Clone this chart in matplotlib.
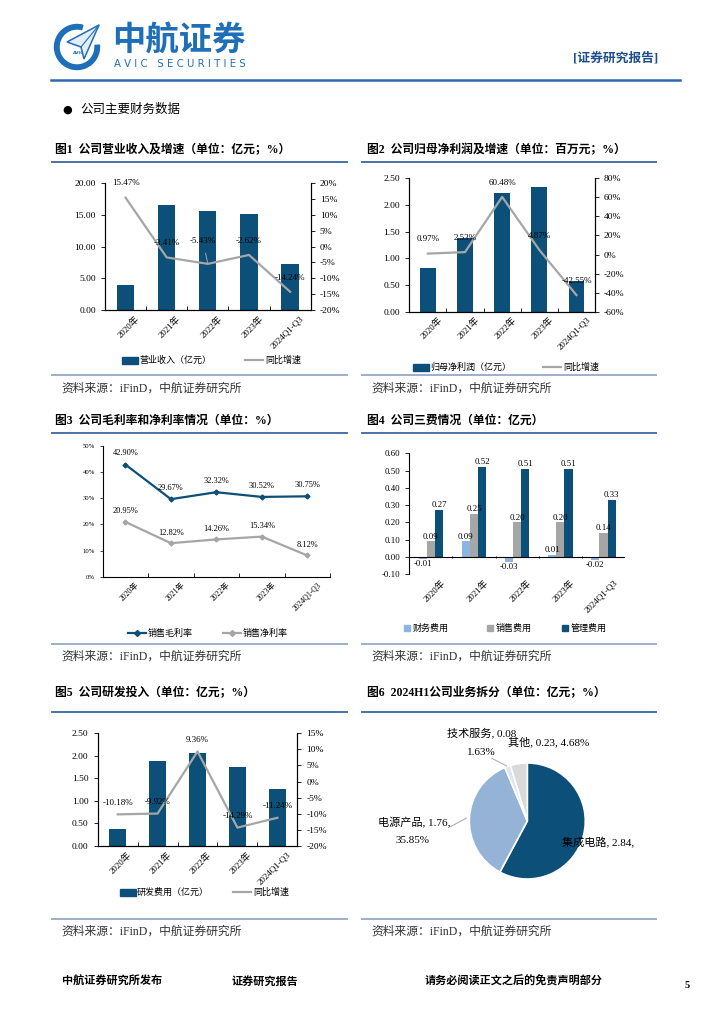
import numpy as np
import matplotlib
matplotlib.use('Agg')
import matplotlib.pyplot as plt
from matplotlib.patches import Rectangle, Wedge, Polygon
from matplotlib.transforms import ScaledTranslation

plt.rcParams['font.family'] = ['Liberation Serif', 'Noto Sans CJK SC']
plt.rcParams['axes.unicode_minus'] = False

# data -----------------------------------------------------------------------
years = ['2020年', '2021年', '2022年', '2023年', '2024Q1-Q3']
rev = [4.0, 16.5, 15.7, 15.2, 7.2]
rev_yoy = [15.47, -3.41, -5.43, -2.62, -14.24]
np_parent = [0.81, 1.38, 2.23, 2.34, 0.58]
np_yoy = [0.97, 2.53, 60.48, 4.87, -42.55]
gross_margin = [42.90, 29.67, 32.32, 30.52, 30.75]
net_margin = [20.95, 12.82, 14.26, 15.34, 8.12]
fin_exp = [-0.01, 0.09, -0.03, 0.01, -0.02]
sell_exp = [0.09, 0.25, 0.20, 0.20, 0.14]
admin_exp = [0.27, 0.52, 0.51, 0.51, 0.33]
rd = [0.38, 1.88, 2.06, 1.76, 1.26]
rd_yoy = [-10.18, -9.92, 9.36, -14.29, -11.24]
seg_names = ['集成电路', '电源产品', '技术服务', '其他']
seg_vals = [2.84, 1.76, 0.08, 0.23]
seg_pct = [57.84, 35.85, 1.63, 4.68]

DARK = '#0C4F78'
GRAY = '#A6A6A6'
LBLUE = '#8DB4E2'
W, H = 724, 1024

fig = plt.figure(figsize=(W / 100, H / 100), dpi=100)

# page layer in pixel coords
page = fig.add_axes([0, 0, 1, 1], zorder=0)
page.set_xlim(0, W)
page.set_ylim(H, 0)
page.axis('off')


def px_axes(x0, y0, x1, y1):
    a = fig.add_axes([x0 / W, 1 - y1 / H, (x1 - x0) / W, (y1 - y0) / H], zorder=2)
    a.patch.set_alpha(0)
    return a


def style_x(ax, fs=6.5):
    x = np.arange(len(years))
    ax.set_xlim(-0.5, len(years) - 0.5)
    ax.set_xticks(x)
    ax.set_xticklabels(years, rotation=45, ha='right', va='top',
                       rotation_mode='anchor', fontsize=fs)
    ax.set_xticks(np.arange(-0.5, len(years), 1), minor=True)
    ax.tick_params(axis='x', which='major', length=0, pad=3)
    ax.tick_params(axis='x', which='minor', direction='in', length=3, width=0.6)
    for lab in ax.get_xticklabels():
        lab.set_transform(lab.get_transform() +
                          ScaledTranslation(7 / 72, 0, fig.dpi_scale_trans))


def bar_line(box, bars, yoy, ylim, ystep, rlim, rstep, dy, lead=None):
    ax = px_axes(*box)
    x = np.arange(len(years))
    ax.bar(x, bars, width=0.42, color=DARK, zorder=2)
    ax.set_ylim(*ylim)
    ax.set_yticks(np.arange(ylim[0], ylim[1] + 1e-9, ystep))
    ax.set_yticklabels(['%.2f' % v for v in ax.get_yticks()])
    ax.tick_params(axis='y', direction='out', length=3, width=0.6, labelsize=6.8)
    style_x(ax)
    ax.spines['top'].set_visible(False)
    for s in ax.spines.values():
        s.set_linewidth(0.8)
    ax2 = ax.twinx()
    ax2.plot(x, yoy, color=GRAY, lw=1.6, zorder=3)
    ax2.set_ylim(*rlim)
    rt = np.arange(rlim[0], rlim[1] + 1e-9, rstep)
    ax2.set_yticks(rt)
    ax2.set_yticklabels(['%d%%' % v for v in rt])
    ax2.tick_params(axis='y', direction='out', length=3, width=0.6, labelsize=6.8)
    ax2.spines['top'].set_visible(False)
    for s in ax2.spines.values():
        s.set_linewidth(0.8)
    for i, v in enumerate(yoy):
        if lead is not None and i == lead:
            ax2.annotate('%.2f%%' % v, xy=(i, v), xytext=(i - 0.12, v + dy * 1.6),
                         ha='center', va='center', fontsize=6.5,
                         arrowprops=dict(arrowstyle='-', color=GRAY, lw=0.7,
                                         shrinkA=4, shrinkB=0))
        else:
            ax2.text(i, v + dy, '%.2f%%' % v, ha='center', va='center', fontsize=6.5)
    return ax, ax2


def leg_bar(x, y, color, text, fs=6.5):
    page.add_patch(Rectangle((x, y - 3.5), 16, 7, color=color))
    page.text(x + 17, y, text, va='center', fontsize=fs)


def leg_sq(x, y, color, text, fs=6.5):
    page.add_patch(Rectangle((x - 3, y - 3), 6, 6, color=color))
    page.text(x + 6, y, text, va='center', fontsize=fs)


def leg_line(x, y, color, text, marker=None, fs=6.5):
    page.plot([x, x + 9, x + 18], [y, y, y], color=color, lw=1.6,
              marker=marker, markersize=3, markevery=[1])
    page.text(x + 20, y, text, va='center', fontsize=fs)


# header -------------------------------------------------------------------
LOGO = '#1F6FB8'
page.add_patch(Wedge((77, 47), 22.5, -5, 285, width=4.5, color=LOGO))
page.add_patch(Polygon([(99, 25), (67, 42), (81, 47), (84, 59)],
                       closed=True, facecolor='#E3EEF8', edgecolor=LOGO, lw=1.1))
page.plot([99, 81], [25, 47], color=LOGO, lw=0.8)
page.text(79, 53, 'AVIC', fontsize=3.2, color=LOGO, ha='center', va='center',
          family='DejaVu Sans', fontweight='bold')
page.text(112, 41, '中航证券', fontsize=24, color=LOGO, fontweight='bold',
          va='center', family='Noto Sans CJK SC')
page.text(114, 64, 'A V I C   S E C U R I T I E S', fontsize=7.3, color=LOGO,
          va='center', family='DejaVu Sans')
page.text(658, 58, '[证券研究报告]', fontsize=9.2, color='#1F4E8C', fontweight='bold',
          ha='right', va='center')
page.plot([51, 680], [80, 80], color='#2E69B0', lw=1.8)

page.text(62, 110, '●', fontsize=8, va='center', family='DejaVu Sans')
page.text(80, 110, '公司主要财务数据', fontsize=9, va='center')

# titles, rules and sources -------------------------------------------------
TIT = '#4A72A8'
RULE = '#9AB0CE'
titles = [(55, 150, '图1  公司营业收入及增速（单位：亿元；%）'),
          (367, 150, '图2  公司归母净利润及增速（单位：百万元；%）'),
          (55, 421, '图3  公司毛利率和净利率情况（单位：%）'),
          (367, 421, '图4  公司三费情况（单位：亿元）'),
          (55, 693, '图5  公司研发投入（单位：亿元；%）'),
          (367, 693, '图6  2024H1公司业务拆分（单位：亿元；%）')]
for tx, ty, t in titles:
    page.text(tx, ty, t, fontsize=8.5, fontweight='bold', va='center')
for y0, y1, ys in [(162, 375, 389), (433, 644, 657), (712, 919, 932)]:
    for xa, xb in [(52, 347), (362, 656)]:
        page.plot([xa, xb], [y0, y0], color=TIT, lw=1.4)
        page.plot([xa, xb], [y1, y1], color=RULE, lw=1.4)
        page.text(xa + 9, ys, '资料来源：iFinD，中航证券研究所', fontsize=8.5,
                  va='center', color='#333333')

# footer
page.text(62, 981, '中航证券研究所发布', fontsize=8, fontweight='bold', va='center')
page.text(232, 981, '证券研究报告', fontsize=8, fontweight='bold', va='center')
page.text(425, 981, '请务必阅读正文之后的免责声明部分', fontsize=8, fontweight='bold',
          va='center')
page.text(685, 985, '5', fontsize=7.5, fontweight='bold', va='center')

# chart 1 ------------------------------------------------------------------
bar_line((105, 183.3, 310.7, 310), rev, rev_yoy, (0, 20), 5, (-20, 20), 5, 4.5, lead=2)
leg_bar(122, 360, DARK, '营业收入（亿元）')
leg_line(245, 360, GRAY, '同比增速')

# chart 2 ------------------------------------------------------------------
bar_line((409.3, 178.3, 595, 311.7), np_parent, np_yoy, (0, 2.5), 0.5,
         (-60, 80), 20, 15)
leg_bar(413, 367, DARK, '归母净利润（亿元）')
leg_line(543, 367, GRAY, '同比增速')

# chart 3 ------------------------------------------------------------------
ax3 = px_axes(102.7, 446, 330, 576.7)
x = np.arange(len(years))
ax3.plot(x, gross_margin, color=DARK, lw=1.6, marker='D', markersize=2.5)
ax3.plot(x, net_margin, color=GRAY, lw=1.6, marker='D', markersize=2.5)
for i in range(len(years)):
    ax3.text(i, gross_margin[i] + 4.3, '%.2f%%' % gross_margin[i], ha='center',
             va='center', fontsize=6)
    ax3.text(i, net_margin[i] + 4.0, '%.2f%%' % net_margin[i], ha='center',
             va='center', fontsize=6)
ax3.set_ylim(0, 50)
ax3.set_yticks(np.arange(0, 51, 10))
ax3.set_yticklabels(['%d%%' % v for v in np.arange(0, 51, 10)])
ax3.tick_params(axis='y', direction='out', length=2, width=0.5, labelsize=4.8)
style_x(ax3, fs=5.5)
for s in ['top', 'right']:
    ax3.spines[s].set_visible(False)
for s in ['left', 'bottom']:
    ax3.spines[s].set_linewidth(0.8)
leg_line(128, 633, DARK, '销售毛利率', marker='D')
leg_line(223, 633, GRAY, '销售净利率', marker='D')

# chart 4 ------------------------------------------------------------------
ax4 = px_axes(409.3, 453.3, 625, 574.3)
w = 0.19
for k, (vals, col) in enumerate([(fin_exp, LBLUE), (sell_exp, GRAY), (admin_exp, DARK)]):
    pos = x + (k - 1) * w
    ax4.bar(pos, vals, width=w, color=col, zorder=2)
    for p, v in zip(pos, vals):
        if v >= 0:
            ax4.text(p, v + 0.005, '%.2f' % v, ha='center', va='bottom', fontsize=6.3)
        else:
            ax4.text(p, v - 0.005, '%.2f' % v, ha='center', va='top', fontsize=6.3)
ax4.set_ylim(-0.1, 0.6)
yt = np.arange(-0.1, 0.61, 0.1)
ax4.set_yticks(yt)
ax4.set_yticklabels(['%.2f' % v for v in yt])
ax4.tick_params(axis='y', direction='out', length=3, width=0.6, labelsize=6.3)
style_x(ax4)
ax4.tick_params(axis='x', which='minor', length=0)
ax4.axhline(0, color='black', lw=0.8, zorder=3)
ax4.vlines(np.arange(-0.5, len(years), 1), -0.008, 0.008, color='black', lw=0.6)
for s in ['top', 'right', 'bottom']:
    ax4.spines[s].set_visible(False)
ax4.spines['left'].set_linewidth(0.8)
leg_sq(407, 628, LBLUE, '财务费用')
leg_sq(490, 628, GRAY, '销售费用')
leg_sq(565, 628, DARK, '管理费用')

# chart 5 ------------------------------------------------------------------
bar_line((97.7, 733.3, 297.3, 846), rd, rd_yoy, (0, 2.5), 0.5, (-20, 15), 5, 3.6)
leg_bar(120, 892, DARK, '研发费用（亿元）')
leg_line(233, 892, GRAY, '同比增速')

# chart 6 ------------------------------------------------------------------
cx, cy, r = 527.3, 821, 58
ax6 = px_axes(cx - r, cy - r, cx + r, cy + r)
ax6.pie(seg_vals, colors=[DARK, '#95B3D7', '#DCE6F2', '#D9D9D9'], startangle=90,
        counterclock=False, wedgeprops=dict(edgecolor='white', linewidth=1.2))
ax6.set_xlim(-1, 1)
ax6.set_ylim(-1, 1)
fs6 = 8
ax6.text(-1.38, 1.52, '%s, %.2f' % (seg_names[2], seg_vals[2]), fontsize=fs6,
         va='center', clip_on=False)
ax6.text(-0.8, 1.18, '%.2f%%' % seg_pct[2], fontsize=fs6, ha='center', va='center',
         clip_on=False)
ax6.plot([-0.61, -0.36], [1.08, 0.95], color=GRAY, lw=0.7, clip_on=False)
ax6.text(-0.33, 1.37, '%s, %.2f, %.2f%%' % (seg_names[3], seg_vals[3], seg_pct[3]),
         fontsize=fs6, va='center', clip_on=False)
ax6.text(-2.57, -0.03, '%s, %.2f,' % (seg_names[1], seg_vals[1]), fontsize=fs6,
         va='center', clip_on=False)
ax6.text(-2.28, -0.33, '%.2f%%' % seg_pct[1], fontsize=fs6, va='center', clip_on=False)
ax6.plot([-1.33, -1.05], [-0.1, 0.05], color=GRAY, lw=0.7, clip_on=False)
ax6.text(0.59, -0.38, '%s, %.2f,' % (seg_names[0], seg_vals[0]), fontsize=fs6,
         va='center', clip_on=False)

fig.savefig('out.png', dpi=100)
